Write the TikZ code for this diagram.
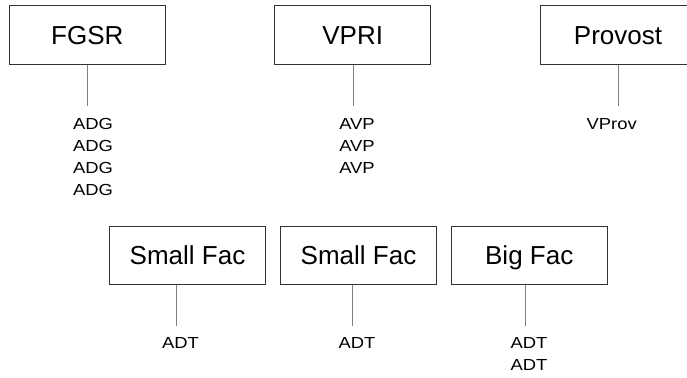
\documentclass[tikz,border=0pt]{standalone}
\usepackage{fontspec}
\setmainfont{Liberation Sans}
\newfontfamily\stafffont[FakeStretch=1.15]{Liberation Sans}
\definecolor{boxline}{HTML}{333333}
\definecolor{linkline}{HTML}{808080}

\begin{document}
\begin{tikzpicture}
        [
            x = 1pt, y = -1pt,
            unit/.style={draw=boxline, line width=1pt, minimum width=156pt,
                minimum height=58.5pt, inner sep=0pt, text height=18.6pt,
                text depth=0pt, font=\fontsize{26}{30}\selectfont},
            staff/.style={align=center, inner sep=0pt,
                font=\stafffont\fontsize{16}{22}\selectfont},
            link/.style={draw=linkline, line width=0.9pt},
        ]
        \clip (0,0) rectangle (687,377);
        \useasboundingbox (0,0) rectangle (687,377);

        % top row
        \node[unit] (fgsr) at (87.3,34.9) {FGSR};
        \node[unit] (vpri) at (352.7,34.9) {VPRI};
        \node[unit] (provost) at (618,34.9) {Provost};

        \coordinate (fgsrend) at (87.7,105.7);
        \coordinate (vpriend) at (353.3,105.7);
        \coordinate (provostend) at (618.3,105.7);
        \draw[link] (fgsr.south -| fgsrend) -- (fgsrend);
        \draw[link] (vpri.south -| vpriend) -- (vpriend);
        \draw[link] (provost.south -| provostend) -- (provostend);

        \node[staff] (adg) at (93,157) {ADG\\ADG\\ADG\\ADG};
        \node[staff] (avp) at (357,146) {AVP\\AVP\\AVP};
        \node[staff] (vprov) at (611.7,124) {VProv};

        % bottom row
        \node[unit] (smallone) at (187.5,255.3) {Small Fac};
        \node[unit] (smalltwo) at (358.5,255.3) {Small Fac};
        \node[unit] (big) at (529.2,255.3) {Big Fac};

        \coordinate (smalloneend) at (176.7,325.7);
        \coordinate (smalltwoend) at (352.7,325.7);
        \coordinate (bigend) at (525,325.7);
        \draw[link] (smallone.south -| smalloneend) -- (smalloneend);
        \draw[link] (smalltwo.south -| smalltwoend) -- (smalltwoend);
        \draw[link] (big.south -| bigend) -- (bigend);

        \node[staff] (adtone) at (180.5,343) {ADT};
        \node[staff] (adttwo) at (357,343) {ADT};
        \node[staff] (adtbig) at (529,354) {ADT\\ADT};
    \end{tikzpicture}
\end{document}
